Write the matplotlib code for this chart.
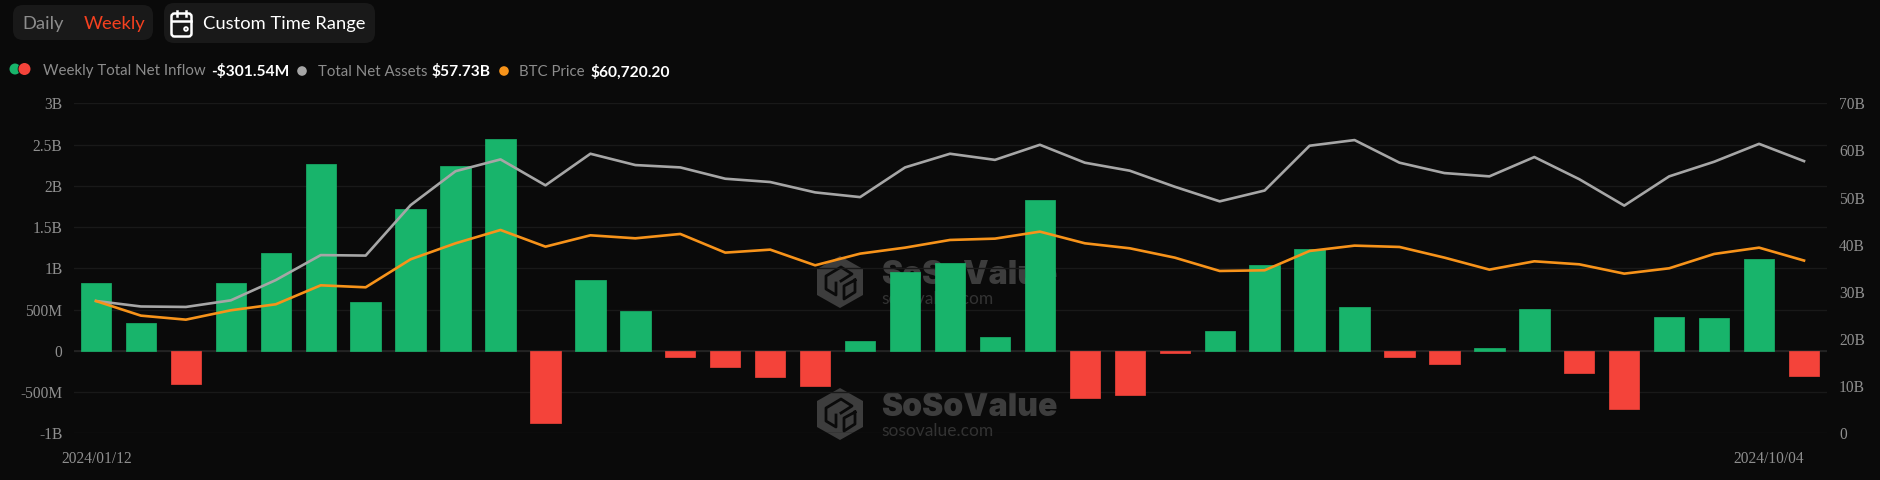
#!/usr/bin/python3

import matplotlib
matplotlib.use("Agg")
import matplotlib.pyplot as plt
from matplotlib.patches import FancyBboxPatch, Polygon, Circle

# weekly net inflow in billions
net_inflow = [0.816, 0.343, -0.40, 0.816, 1.19, 2.27, 0.586, 1.72, 2.24, 2.566,
              -0.88, 0.86, 0.485, -0.077, -0.198, -0.323, -0.428, 0.117, 0.95, 1.06,
              0.17, 1.83, -0.578, -0.537, -0.032, 0.238, 1.046, 1.24, 0.533, -0.073,
              -0.166, 0.036, 0.505, -0.275, -0.703, 0.404, 0.396, 1.107, -0.30154]
# total net assets in billions
net_assets = [28.07, 26.9, 26.8, 28.2, 32.5, 37.8, 37.7, 48.4, 55.6, 58.1,
              52.6, 59.3, 56.9, 56.4, 54.0, 53.3, 51.1, 50.1, 56.4, 59.3,
              58.0, 61.2, 57.4, 55.7, 52.3, 49.2, 51.5, 61.0, 62.2, 57.4,
              55.2, 54.5, 58.6, 53.9, 48.3, 54.5, 57.6, 61.4, 57.73]
btc_price = [46500, 41360, 39950, 43240, 45350, 52020, 51320, 61160, 66790, 71470,
             65610, 69600, 68540, 70070, 63510, 64560, 59050, 63150, 65260, 67960,
             68430, 70890, 66790, 65030, 61750, 57060, 57300, 64090, 65970, 65500,
             61750, 57530, 60460, 59400, 56120, 58000, 63040, 65260, 60720.20]

left_ticks = [-1, -0.5, 0, 0.5, 1, 1.5, 2, 2.5, 3]
left_labels = ["-1B", "-500M", "0", "500M", "1B", "1.5B", "2B", "2.5B", "3B"]
right_ticks = [0, 10, 20, 30, 40, 50, 60, 70]
right_labels = ["0", "10B", "20B", "30B", "40B", "50B", "60B", "70B"]
first_date = "2024/01/12"
last_date = "2024/10/04"

W, H = 1880, 480
BG = "#0a0a0a"
GREEN = "#18b46b"
RED = "#f4433a"
GRAY = "#a6a6a6"
ORANGE = "#f7931a"
TICK = "#8f8f8f"
MARK = "#3d3d3d"
UI = ["Lato", "DejaVu Sans"]
SERIF = ["Liberation Serif", "DejaVu Serif"]

fig = plt.figure(figsize=(W / 100, H / 100), dpi=100, facecolor=BG)

# full-figure layer in pixel coordinates for the page controls and watermark
page = fig.add_axes([0, 0, 1, 1], zorder=0)
page.set_xlim(0, W)
page.set_ylim(H, 0)
page.axis("off")


def button(x, y, w, h):
    page.add_patch(FancyBboxPatch((x + 8, y + 8), w - 16, h - 16, boxstyle="round,pad=8,rounding_size=10",
                                  fc="#191919", ec="none"))


button(13, 5, 140, 35)
button(164, 3, 211, 40)
page.text(22.5, 24, "Daily", color="#8c8c8c", fontsize=13.2, family=UI, va="center")
page.text(84, 24, "Weekly", color="#f5401f", fontsize=13.2, family=UI, va="center")
page.text(203, 24, "Custom Time Range", color="white", fontsize=13.2, family=UI, va="center")

# calendar icon
page.add_patch(FancyBboxPatch((173, 15), 17, 20, boxstyle="round,pad=1.5,rounding_size=3",
                              fc="none", ec="white", lw=1.8))
page.plot([172, 191], [21, 21], color="white", lw=1.8)
page.plot([177, 177], [11, 16], color="white", lw=1.8)
page.plot([186, 186], [11, 16], color="white", lw=1.8)
page.add_patch(Circle((186, 29), 1.8, fc="none", ec="white", lw=1.4))

# legend row
page.add_patch(Circle((15, 69), 5.5, fc=GREEN, ec="none"))
page.add_patch(Circle((24.5, 69), 6.8, fc=BG, ec="none"))
page.add_patch(Circle((24.5, 69), 6, fc=RED, ec="none"))
page.text(43, 71, "Weekly Total Net Inflow", color="#8c8c8c", fontsize=10.8, family=UI, va="center")
page.text(211, 71, "-$301.54M", color="white", fontsize=11.2, family=UI, weight="bold", va="center")
page.add_patch(Circle((302, 71), 4.8, fc=GRAY, ec="none"))
page.text(318, 72, "Total Net Assets", color="#8c8c8c", fontsize=10.8, family=UI, va="center")
page.text(432, 72, "$57.73B", color="white", fontsize=11.2, family=UI, weight="bold", va="center")
page.add_patch(Circle((504, 71), 4.8, fc=ORANGE, ec="none"))
page.text(519, 72, "BTC Price", color="#8c8c8c", fontsize=10.8, family=UI, va="center")
page.text(591, 72, "$60,720.20", color="white", fontsize=11.2, family=UI, weight="bold", va="center")


def watermark(y):
    # solid hexagon with the folded square cut into it
    x = 817
    hexagon = [(x + 23, y), (x + 46, y + 13), (x + 46, y + 39), (x + 23, y + 52), (x, y + 39), (x, y + 13)]
    page.add_patch(Polygon(hexagon, closed=True, fc=MARK, ec="none"))
    page.plot([x + 24, x + 35, x + 24, x + 9, x + 9, x + 19, x + 19],
              [y + 25, y + 18, y + 11, y + 20, y + 33, y + 39, y + 27], color=BG, lw=2)
    page.plot([x + 38, x + 38, x + 27, x + 27, x + 38], [y + 24, y + 36, y + 43, y + 30, y + 24], color=BG, lw=2)
    page.text(x + 64, y + 20, "SoSoValue", color=MARK, fontsize=23, family=["Inter", "Lato"], weight="black",
              va="center")
    page.text(x + 64, y + 43, "sosovalue.com", color="#333333", fontsize=12.5, family=UI, va="center")


watermark(256)
watermark(388)

# plot area
L, R, T, B = 73.5, 1826.5, 103.3, 433.3
ax = fig.add_axes([L / W, 1 - B / H, (R - L) / W, (B - T) / H], zorder=1)
ax.patch.set_alpha(0)
x = list(range(len(net_inflow)))
ax.set_xlim(-0.5, len(x) - 0.5)
ax.set_ylim(-1, 3)
for side in ax.spines:
    ax.spines[side].set_visible(False)
ax.set_yticks(left_ticks)
ax.set_yticklabels(left_labels, family=SERIF, fontsize=11.2, color=TICK)
ax.set_xticks([])
ax.tick_params(axis="y", length=0, pad=8)
ax.grid(axis="y", color="#191919", lw=1)
ax.axhline(0, color="#262626", lw=1.2, zorder=1)
ax.set_axisbelow(True)

colors = [GREEN if v >= 0 else RED for v in net_inflow]
ax.bar(x, net_inflow, width=0.675, color=colors, edgecolor=colors, linewidth=0.5, joinstyle="round", zorder=2)

ax2 = ax.twinx()
ax2.set_ylim(0, 70)
for side in ax2.spines:
    ax2.spines[side].set_visible(False)
ax2.set_yticks(right_ticks)
ax2.set_yticklabels(right_labels, family=SERIF, fontsize=11.2, color=TICK)
ax2.tick_params(axis="y", length=0, pad=9)
ax2.plot(x, net_assets, color=GRAY, lw=1.9, zorder=3)

# BTC price has its own hidden scale
ax3 = ax.twinx()
ax3.set_ylim(0, 116000)
ax3.axis("off")
ax3.plot(x, btc_price, color=ORANGE, lw=1.9, zorder=4)

page.text(96.3, 459, first_date, color=TICK, fontsize=11.2, family=SERIF, ha="center", va="center")
page.text(1804, 459, last_date, color=TICK, fontsize=11.2, family=SERIF, ha="right", va="center")

plt.savefig("out.png", dpi=100, facecolor=BG)
